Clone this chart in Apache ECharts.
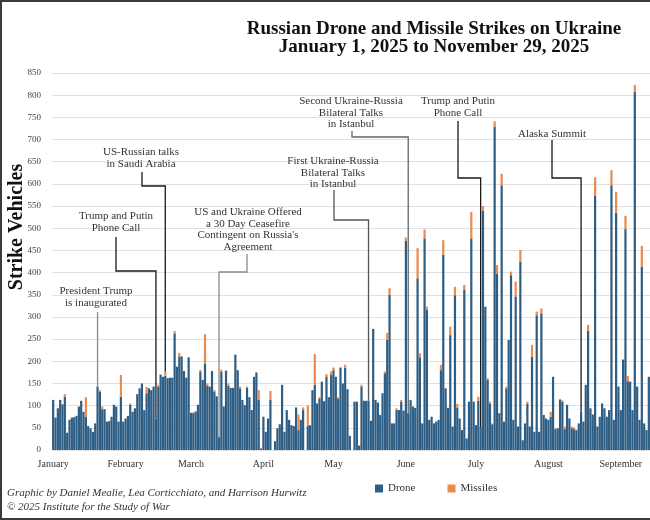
<!DOCTYPE html>
<html>
<head>
<meta charset="utf-8">
<script src="https://cdn.jsdelivr.net/npm/echarts@6/dist/echarts.min.js"></script>
<style>
  html, body { margin: 0; padding: 0; background: #fff; }
  #wrap { position: relative; width: 650px; height: 520px; }
  #chart { width: 650px; height: 520px; }
  #frame { position: absolute; left: 0; top: 0; width: 650px; height: 520px; box-sizing: border-box;
           border: 2px solid #3b3b3b; border-right: none; pointer-events: none; }
</style>
</head>
<body>
<div id="wrap"><div id="chart"></div><div id="frame"></div></div>
<script>
const serif = '"Liberation Serif", "DejaVu Serif", serif'

const monthNames = ['January', 'February', 'March', 'April', 'May', 'June', 'July', 'August', 'September']

// daily drone counts
const droneJan = [113, 73, 94, 113, 103, 120, 39, 68, 73, 74, 77, 98, 111, 86, 75, 54, 49, 41, 60, 143, 131, 92, 92, 64, 65, 75, 102, 98, 64, 120, 64]
const droneFeb = [71, 77, 102, 86, 94, 126, 139, 150, 90, 128, 139, 135, 143, 71, 143, 170, 165, 167, 162, 163, 163, 263, 188, 211, 211, 178, 163, 209]
const droneMar = [84, 84, 87, 102, 176, 158, 194, 145, 143, 178, 132, 121, 29, 176, 98, 179, 145, 140, 140, 215, 180, 139, 113, 101, 140, 119, 90, 165, 175, 113, 2]
const droneApr = [75, 41, 71, 113, 0, 20, 49, 58, 147, 41, 90, 68, 56, 54, 96, 45, 68, 90, 0, 55, 56, 135, 147, 105, 115, 154, 110, 165, 119, 169]
const droneMay = [180, 165, 115, 186, 150, 186, 137, 32, 0, 109, 109, 10, 143, 111, 111, 111, 66, 273, 113, 107, 79, 128, 173, 248, 350, 60, 60, 90, 90, 109, 89]
const droneJun = [472, 83, 113, 98, 95, 387, 209, 60, 477, 316, 68, 75, 60, 64, 68, 180, 440, 139, 95, 259, 53, 349, 96, 71, 45, 361, 26, 109, 477, 109]
const droneJul = [56, 111, 52, 539, 323, 158, 105, 58, 728, 398, 83, 597, 64, 139, 248, 394, 68, 346, 53, 425, 22, 60, 104, 53, 210, 41, 304, 41, 308, 79, 71]
const droneAug = [68, 75, 165, 47, 49, 114, 109, 47, 102, 71, 49, 47, 45, 60, 86, 64, 147, 269, 94, 80, 573, 53, 75, 105, 94, 75, 90, 597, 68, 535, 143]
const droneSep = [90, 204, 498, 155, 154, 90, 808, 143, 68, 413, 60, 45, 165]

// daily missile counts
const missileJan = [0, 0, 0, 0, 0, 6, 0, 0, 0, 0, 0, 0, 0, 0, 44, 0, 0, 0, 0, 0, 4, 6, 0, 0, 0, 0, 0, 0, 0, 49, 0]
const missileFeb = [0, 0, 3, 0, 0, 0, 0, 0, 0, 14, 0, 0, 0, 0, 4, 0, 0, 10, 0, 0, 0, 5, 0, 8, 0, 0, 0, 0]
const missileMar = [0, 0, 0, 0, 5, 0, 67, 5, 0, 0, 3, 0, 0, 5, 0, 0, 5, 0, 0, 0, 0, 4, 0, 0, 3, 0, 0, 0, 0, 22, 3]
const missileApr = [0, 0, 0, 20, 0, 0, 0, 0, 0, 0, 0, 0, 0, 0, 0, 35, 0, 6, 0, 45, 0, 0, 69, 0, 4, 0, 0, 6, 0, 8]
const missileMay = [6, 0, 4, 0, 0, 6, 0, 0, 0, 0, 0, 0, 4, 0, 0, 0, 0, 0, 0, 0, 0, 0, 4, 16, 15, 0, 0, 4, 0, 4, 0]
const missileJun = [7, 0, 0, 0, 0, 68, 9, 0, 20, 7, 0, 0, 0, 0, 0, 12, 33, 0, 0, 19, 0, 19, 8, 0, 0, 11, 0, 0, 60, 0]
const missileJul = [0, 9, 0, 11, 0, 4, 4, 2, 13, 19, 0, 26, 0, 4, 0, 8, 0, 34, 0, 26, 0, 0, 5, 0, 27, 0, 8, 0, 11, 0, 0]
const missileAug = [0, 11, 0, 2, 0, 0, 3, 6, 0, 0, 4, 4, 0, 0, 0, 0, 0, 13, 0, 0, 42, 0, 0, 0, 0, 0, 0, 34, 0, 47, 0]
const missileSep = [0, 0, 30, 12, 0, 0, 15, 0, 0, 47, 0, 0, 0]

// event annotations
const annoDays = ['2025-01-20', '2025-02-14', '2025-02-18', '2025-03-13', '2025-05-16', '2025-06-02', '2025-07-03', '2025-08-15']
const annoLabels = [
    'President Trump\nis inaugurated',
    'Trump and Putin\nPhone Call',
    'US-Russian talks\nin Saudi Arabia',
    'US and Ukraine Offered\na 30 Day Ceasefire\nContingent on Russia\'s\nAgreement',
    'First Ukraine-Russia\nBilateral Talks\nin Istanbul',
    'Second Ukraine-Russia\nBilateral Talks\nin Istanbul',
    'Trump and Putin\nPhone Call',
    'Alaska Summit'
]

const drones = [].concat(droneJan, droneFeb, droneMar, droneApr, droneMay, droneJun, droneJul, droneAug, droneSep)
const missiles = [].concat(missileJan, missileFeb, missileMar, missileApr, missileMay, missileJun, missileJul, missileAug, missileSep)

// one category per day from Jan 1
const days = drones.map((_, i) => new Date(Date.UTC(2025, 0, 1 + i)).toISOString().slice(0, 10))

// where the labels and their leader lines sit (pixels)
const annoLayout = [
    { tx: 96, ty: 285, lx: null, startY: 312, elbowY: 312, color: '#8a8a8a' },
    { tx: 116, ty: 210, lx: 116, startY: 237, elbowY: 271, color: '#1a1a1a' },
    { tx: 141, ty: 146, lx: 142, startY: 172, elbowY: 186, color: '#1a1a1a' },
    { tx: 248, ty: 206, lx: 247, startY: 254, elbowY: 272, color: '#8a8a8a' },
    { tx: 333, ty: 155, lx: 334, startY: 190, elbowY: 220, color: '#555' },
    { tx: 351, ty: 95, lx: 352, startY: 131, elbowY: 137, color: '#666' },
    { tx: 458, ty: 95, lx: 458, startY: 121, elbowY: 178, color: '#1a1a1a' },
    { tx: 552, ty: 128, lx: 552, startY: 140, elbowY: 178, color: '#1a1a1a' }
]

const chart = echarts.init(document.getElementById('chart'), null, { renderer: 'canvas' })

chart.setOption({
    animation: false,
    backgroundColor: '#fff',
    title: {
        text: 'Russian Drone and Missile Strikes on Ukraine\nJanuary 1, 2025 to November 29, 2025',
        left: 429,
        top: 15,
        textAlign: 'center',
        textStyle: { fontFamily: serif, fontSize: 19, fontWeight: 'bold', lineHeight: 18, color: '#111' }
    },
    legend: {
        left: 370,
        top: 478,
        icon: 'rect',
        itemWidth: 8,
        itemHeight: 8,
        itemGap: 32,
        textStyle: { fontFamily: serif, fontSize: 11, color: '#333' },
        data: ['Drone', 'Missiles']
    },
    grid: { left: 52, right: 0, top: 73, bottom: 70 },
    xAxis: {
        type: 'category',
        data: days,
        axisLine: { show: false },
        axisTick: { show: false },
        axisLabel: {
            interval: (i, v) => v.endsWith('-01'),
            formatter: v => monthNames[+v.slice(5, 7) - 1],
            fontFamily: serif,
            fontSize: 10,
            color: '#333',
            margin: 9
        }
    },
    yAxis: {
        type: 'value',
        min: 0,
        max: 850,
        interval: 50,
        axisLine: { show: false },
        axisTick: { show: false },
        axisLabel: { fontFamily: serif, fontSize: 9, color: '#444', margin: 11 },
        splitLine: { lineStyle: { color: '#e0e0e0', width: 1 } }
    },
    series: [
        {
            name: 'Drone',
            type: 'bar',
            stack: 'total',
            data: drones,
            barCategoryGap: '5%',
            itemStyle: { color: '#2f5e85' }
        },
        {
            name: 'Missiles',
            type: 'bar',
            stack: 'total',
            data: missiles,
            itemStyle: { color: '#ec8b4c' }
        }
    ]
})

// leader lines are hooked to the top of the bar of that day
const graphics = [
    {
        id: 'ytitle', type: 'text', x: 17, y: 227, rotation: Math.PI / 2,
        style: { text: 'Strike Vehicles', font: 'bold 20px ' + serif, textAlign: 'center', textVerticalAlign: 'middle', fill: '#111' }
    },
    {
        id: 'credit1', type: 'text', left: 7, top: 488,
        style: { text: 'Graphic by Daniel Mealie, Lea Corticchiato, and Harrison Hurwitz', font: 'italic 11px ' + serif, fill: '#333' }
    },
    {
        id: 'credit2', type: 'text', left: 7, top: 502,
        style: { text: '\u00a9 2025 Institute for the Study of War', font: 'italic 11px ' + serif, fill: '#333' }
    }
]

annoDays.forEach((d, k) => {
    const L = annoLayout[k]
    const idx = days.indexOf(d)
    const [bx, by] = chart.convertToPixel({ gridIndex: 0 }, [idx, drones[idx] + missiles[idx]])
    const lx = L.lx === null ? bx : L.lx
    graphics.push({
        id: 'anno-line-' + k, type: 'polyline', z: 10,
        shape: { points: [[lx, L.startY], [lx, L.elbowY], [bx, L.elbowY], [bx, by]] },
        style: { stroke: L.color, lineWidth: 1.3, fill: null }
    })
    graphics.push({
        id: 'anno-text-' + k, type: 'text', z: 10, x: L.tx, y: L.ty,
        style: { text: annoLabels[k], font: '11px ' + serif, lineHeight: 11.8, textAlign: 'center', textVerticalAlign: 'top', fill: '#333' }
    })
})

chart.setOption({ graphic: graphics })
</script>
</body>
</html>
